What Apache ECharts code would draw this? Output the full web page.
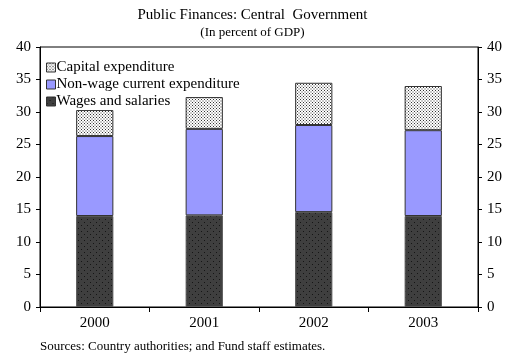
<!DOCTYPE html>
<html>
<head>
<meta charset="utf-8">
<script src="https://cdn.jsdelivr.net/npm/echarts@6/dist/echarts.min.js"></script>
<style>
  html, body { margin: 0; padding: 0; background: #fff; }
  #chart { width: 505px; height: 360px; }
</style>
</head>
<body>
<div id="chart"></div>
<script>
// Central government spending, percent of GDP
const years = ['2000', '2001', '2002', '2003'];
const wagesSalaries = [14.0, 14.1, 14.6, 14.0];
const nonWageCurrent = [12.3, 13.3, 13.4, 13.2];
const capitalExpenditure = [4.0, 4.9, 6.5, 6.8];
const yTicks = [0, 5, 10, 15, 20, 25, 30, 35, 40];

const FONT = '"Liberation Serif", "Times New Roman", serif';

// Small tiled canvases used as dotted fills
function dotPattern(bg, dot, step) {
  const c = document.createElement('canvas');
  c.width = step; c.height = step;
  const ctx = c.getContext('2d');
  ctx.fillStyle = bg;
  ctx.fillRect(0, 0, step, step);
  ctx.fillStyle = dot;
  ctx.fillRect(0, 0, 1, 1);
  ctx.fillRect(step / 2, step / 2, 1, 1);
  return c;
}
const capitalFill = { image: dotPattern('#ffffff', '#333333', 3), repeat: 'repeat' };
const wagesFill = { image: dotPattern('#3f3f3f', '#151515', 6), repeat: 'repeat' };

const chart = echarts.init(document.getElementById('chart'), null, { renderer: 'canvas' });

const yAxisBase = {
  type: 'value',
  min: yTicks[0],
  max: yTicks[yTicks.length - 1],
  interval: 5,
  axisLine: { show: true, lineStyle: { color: '#000', width: 1 } },
  axisTick: { show: true, length: 4, lineStyle: { color: '#000' } },
  splitLine: { show: false },
  axisLabel: { color: '#000', fontFamily: FONT, fontSize: 15, margin: 9 }
};

chart.setOption({
  animation: false,
  backgroundColor: '#fff',
  title: [
    {
      text: 'Public Finances: Central  Government',
      left: 'center', top: 3,
      textStyle: { fontFamily: FONT, fontSize: 15, fontWeight: 'normal', color: '#000' }
    },
    {
      text: '(In percent of GDP)',
      left: 'center', top: 21,
      textStyle: { fontFamily: FONT, fontSize: 13, fontWeight: 'normal', color: '#000' }
    },
    {
      text: 'Sources: Country authorities; and Fund staff estimates.',
      left: 40, top: 340, padding: 0,
      textStyle: { fontFamily: FONT, fontSize: 13, fontWeight: 'normal', color: '#000' }
    }
  ],
  legend: {
    orient: 'vertical',
    left: 41, top: 55,
    icon: 'rect',
    itemWidth: 9, itemHeight: 9, itemGap: 2,
    data: ['Capital expenditure', 'Non-wage current expenditure', 'Wages and salaries'],
    textStyle: { fontFamily: FONT, fontSize: 15, color: '#000', padding: [0, 0, 0, -4] },
    itemStyle: { borderColor: '#333', borderWidth: 1 }
  },
  grid: {
    left: 40, right: 25, top: 47, bottom: 53,
    show: true, borderColor: '#000', borderWidth: 1, backgroundColor: 'transparent'
  },
  xAxis: {
    type: 'category',
    data: years,
    axisLine: { lineStyle: { color: '#000', width: 1 } },
    axisTick: { show: true, length: 5, alignWithLabel: false, lineStyle: { color: '#000' } },
    axisLabel: { color: '#000', fontFamily: FONT, fontSize: 15, margin: 9 }
  },
  yAxis: [
    Object.assign({}, yAxisBase, { position: 'left' }),
    Object.assign({}, yAxisBase, { position: 'right' })
  ],
  series: [
    {
      name: 'Wages and salaries', type: 'bar', stack: 'total',
      data: wagesSalaries, barWidth: '34%',
      itemStyle: { color: wagesFill, borderColor: '#555', borderWidth: 1 }
    },
    {
      name: 'Non-wage current expenditure', type: 'bar', stack: 'total',
      data: nonWageCurrent, barWidth: '34%',
      itemStyle: { color: '#9999ff', borderColor: '#333', borderWidth: 1 }
    },
    {
      name: 'Capital expenditure', type: 'bar', stack: 'total',
      data: capitalExpenditure, barWidth: '34%',
      itemStyle: { color: capitalFill, borderColor: '#333', borderWidth: 1 }
    }
  ]
});
</script>
</body>
</html>
